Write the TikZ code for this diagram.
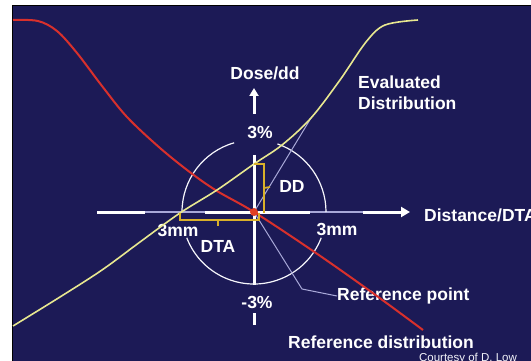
\documentclass[tikz,border=0pt]{standalone}
\usepackage{fontspec}
\setmainfont{Liberation Sans}
\usetikzlibrary{arrows.meta}
\definecolor{slidebg}{HTML}{1C1A56}
\definecolor{refred}{HTML}{D8302C}
\definecolor{evalyel}{HTML}{E8E890}
\definecolor{brackyel}{HTML}{D9B02A}
\definecolor{pointer}{HTML}{A8A8D8}
\newcommand{\bigfont}{\fontsize{17.5}{21}\selectfont\bfseries}

\begin{document}
\begin{tikzpicture}[x=1pt,y=-1pt,font=\bigfont,
    lbl/.style={text=white,inner sep=0pt},
    axis/.style={white,line width=3pt},
    thinaxis/.style={pointer,line width=1.5pt},
    circ/.style={white!90!pointer,line width=1.2pt},
    brack/.style={brackyel,line width=1.8pt},
    ptr/.style={pointer,line width=1pt}]
  \useasboundingbox (0,0) rectangle (531,361);
  \fill[white] (0,0) rectangle (531,361);
  \fill[slidebg] (12,6) rectangle (531,361);
  \draw[black,line width=1pt] (12,361) -- (12,6) -- (531,6);

  \coordinate (o) at (254,212);

  % labels
  \node[lbl] (dose) at (265,73) {Dose/dd};
  \node[lbl,align=left,anchor=north west] (evlbl) at (358,76) {Evaluated\\Distribution};
  \node[lbl] (top) at (260,132) {3\%};
  \node[lbl] (bot) at (257,302) {-3\%};
  \node[lbl] (dd) at (292,186) {DD};
  \node[lbl] (mmleft) at (178,230) {3mm};
  \node[lbl] (mmright) at (337,229) {3mm};
  \node[lbl] (dta) at (218,246) {DTA};
  \node[lbl,anchor=west] (dist) at (424,215) {Distance/DTA};
  \node[lbl,anchor=west] (refpt) at (337,296) {Reference point};
  \node[lbl] (refdist) at (381,342) {Reference distribution};
  \node[lbl,font=\fontsize{11.5}{14}\selectfont,text=white!85!pointer,anchor=base] (credit) at (468,361) {Courtesy of D. Low};

  % distance axis
  \draw[thinaxis] (97,212) -- (400,212);
  \draw[axis] (97,212) -- (145,212);
  \draw[axis] (205,212) -- (310,212);
  \draw[axis,-{Triangle[length=9pt,width=10pt]}] (363,212) -- (410,212);

  % dose axis
  \draw[axis] (254,155) -- (254,285);
  \draw[axis,-{Triangle[length=8pt,width=9pt]}] (254,114) -- (254,88);
  \draw[axis] (254,313) -- (254,325);

  % tolerance circle
  \draw[circ] (o) ++(0:72) arc[start angle=0,end angle=-71,radius=72];
  \draw[circ] (o) ++(-106:72) arc[start angle=-106,end angle=-180,radius=72];
  \draw[circ] (o) ++(159:72) arc[start angle=159,end angle=21,radius=72];

  % pointers
  \coordinate (evtip) at (311,118);
  \coordinate (refbend) at (302,289);
  \draw[ptr] (o) -- (evtip);
  \draw[ptr] (o) -- (refbend) -- (refpt.west);

  % distributions
  \draw[refred,line width=2pt] plot[smooth,tension=0.55] coordinates
    {(13,20) (38,21) (57,31) (77,53) (102,86) (127,117) (160,148) (191,173)
     (217,191) (254,212) (313,251) (370,291) (423,330)};
  \draw[evalyel,line width=1.6pt] plot[smooth,tension=0.55] coordinates
    {(13,326) (60,297) (102,270) (140,242) (180,213) (217,190) (254,164)
     (282,145) (311,118) (340,80) (366,42) (385,25) (418,20)};

  % brackets
  \draw[brack] (180,213) -- (180,220) -- (259,220) -- (259,213);
  \draw[brack] (218,220) -- (218,226);
  \draw[brack] (254,164) -- (264,164) -- (264,213);
  \draw[brack] (264,188) -- (270,187);

  \fill[refred!80!orange] (o) circle[radius=4];
\end{tikzpicture}
\end{document}
